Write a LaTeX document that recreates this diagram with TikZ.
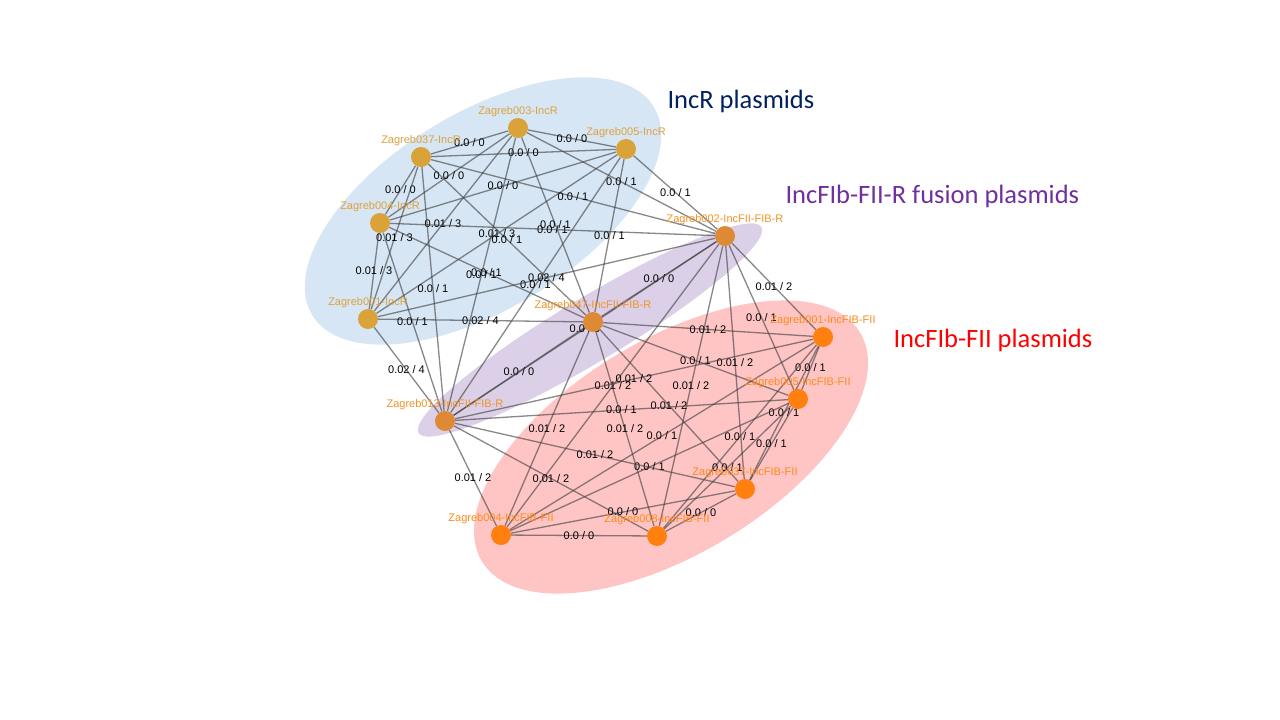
\documentclass[tikz,border=0pt]{standalone}
\usepackage{fontspec}
\setmainfont{Liberation Sans}
\newfontfamily\titlefont{Carlito}

\pgfdeclarelayer{blobs}
\pgfdeclarelayer{links}
\pgfsetlayers{blobs,links,main}

\definecolor{blobblue}{RGB}{214,230,244}
\definecolor{blobpurple}{RGB}{220,208,232}
\definecolor{blobpink}{RGB}{255,197,197}
\definecolor{incrnode}{RGB}{217,163,58}
\definecolor{fusionnode}{RGB}{222,138,52}
\definecolor{fiinode}{RGB}{255,128,14}
\definecolor{incrtag}{RGB}{222,162,62}
\definecolor{fusiontag}{RGB}{240,148,40}
\definecolor{fiitag}{RGB}{255,138,26}
\definecolor{navytitle}{RGB}{0,32,96}
\definecolor{purpletitle}{RGB}{112,48,160}

\begin{document}
\begin{tikzpicture}[x=1pt,y=-1pt,
   plasmid/.style={circle,minimum size=20pt,inner sep=0pt},
   tag/.style={font=\fontsize{11}{13}\selectfont,inner sep=0.5pt},
   rnode/.style={plasmid,fill=incrnode,label={[tag,text=incrtag]above:#1}},
   fnode/.style={plasmid,fill=fusionnode,label={[tag,text=fusiontag]above:#1}},
   bnode/.style={plasmid,fill=fiinode,label={[tag,text=fiitag]above:#1}},
   link/.style={draw=black!75,draw opacity=0.62,line width=1.3pt},
   dist/.style={font=\fontsize{11}{13}\selectfont,inner sep=0pt},
   title/.style={anchor=base west,font=\titlefont\fontsize{26.5}{30}\selectfont}]

   % IncR plasmids
   \node[rnode=Zagreb003-IncR](r3) at (518,128) {};
   \node[rnode=Zagreb005-IncR](r5) at (626,149) {};
   \node[rnode=Zagreb037-IncR](r37) at (421,157) {};
   \node[rnode=Zagreb004-IncR](r4) at (380,223) {};
   \node[rnode=Zagreb001-IncR](r1) at (368,319) {};
   % fusion plasmids
   \node[fnode=Zagreb002-IncFII-FIB-R](f2) at (725,236) {};
   \node[fnode=Zagreb047-IncFII-FIB-R](f47) at (593,322) {};
   \node[fnode=Zagreb013-IncFII-FIB-R](f13) at (445,421) {};
   % IncFIb-FII plasmids
   \node[bnode=Zagreb001-IncFIB-FII](b1) at (823,337) {};
   \node[bnode=Zagreb005-IncFIB-FII](b5) at (798,399) {};
   \node[bnode=Zagreb037-IncFIB-FII](b37) at (745,489) {};
   \node[bnode=Zagreb004-IncFIB-FII](b4) at (501,535) {};
   \node[bnode=Zagreb008-IncFIB-FII](b8) at (657,536) {};

   \node[title,text=navytitle](incr) at (664,108) {IncR plasmids};
   \node[title,text=purpletitle](fusion) at (782,203) {IncFIb-FII-R fusion plasmids};
   \node[title,text=red](fii) at (890,347) {IncFIb-FII plasmids};

   \begin{pgfonlayer}{links}
   \foreach \a/\b/\d/\s in {r3/r5/0.0/0,r3/r37/0.0/0,r3/r4/0.0/0,
         r5/r37/0.0/0,r5/r4/0.0/0,r37/r4/0.0/0,
         r1/r3/0.01/3,r1/r5/0.01/3,r1/r37/0.01/3,r1/r4/0.01/3,
         f2/f47/0.0/0,f47/f13/0.0/0,f2/f13/0.0/0,
         b1/b5/0.0/1,b1/b37/0.0/1,b1/b4/0.0/1,b1/b8/0.0/1,
         b5/b37/0.0/1,b5/b4/0.0/1,b5/b8/0.0/1,
         b37/b8/0.0/0,b37/b4/0.0/0,b4/b8/0.0/0}
      \draw[link] (\a) -- node[dist]{\d{} / \s} (\b);
   \foreach \b in {f2,f47,f13} {
      \foreach \a in {r3,r5,r37,r4}
         \draw[link] (\a) -- node[dist]{0.0 / 1} (\b);
      \draw[link] (r1) -- node[dist]{0.02 / 4} (\b);
      \foreach \c in {b1,b37,b4,b8}
         \draw[link] (\b) -- node[dist]{0.01 / 2} (\c);
      \draw[link] (\b) -- node[dist]{0.0 / 1} (b5);
   }
   \end{pgfonlayer}

   \begin{pgfonlayer}{blobs}
   \useasboundingbox[fill=white] (0,0) rectangle (1280,720);
   \fill[blobblue,shift={(483,211)},rotate=31.4]
      (0,0) ellipse [x radius=200,y radius=98];
   \fill[blobpurple,shift={(590,330)},rotate=31]
      (0,0) ellipse [x radius=200,y radius=32];
   \fill[blobpink,shift={(671,447)},rotate=31.2]
      (0,0) ellipse [x radius=221,y radius=107];
   \end{pgfonlayer}
\end{tikzpicture}
\end{document}
